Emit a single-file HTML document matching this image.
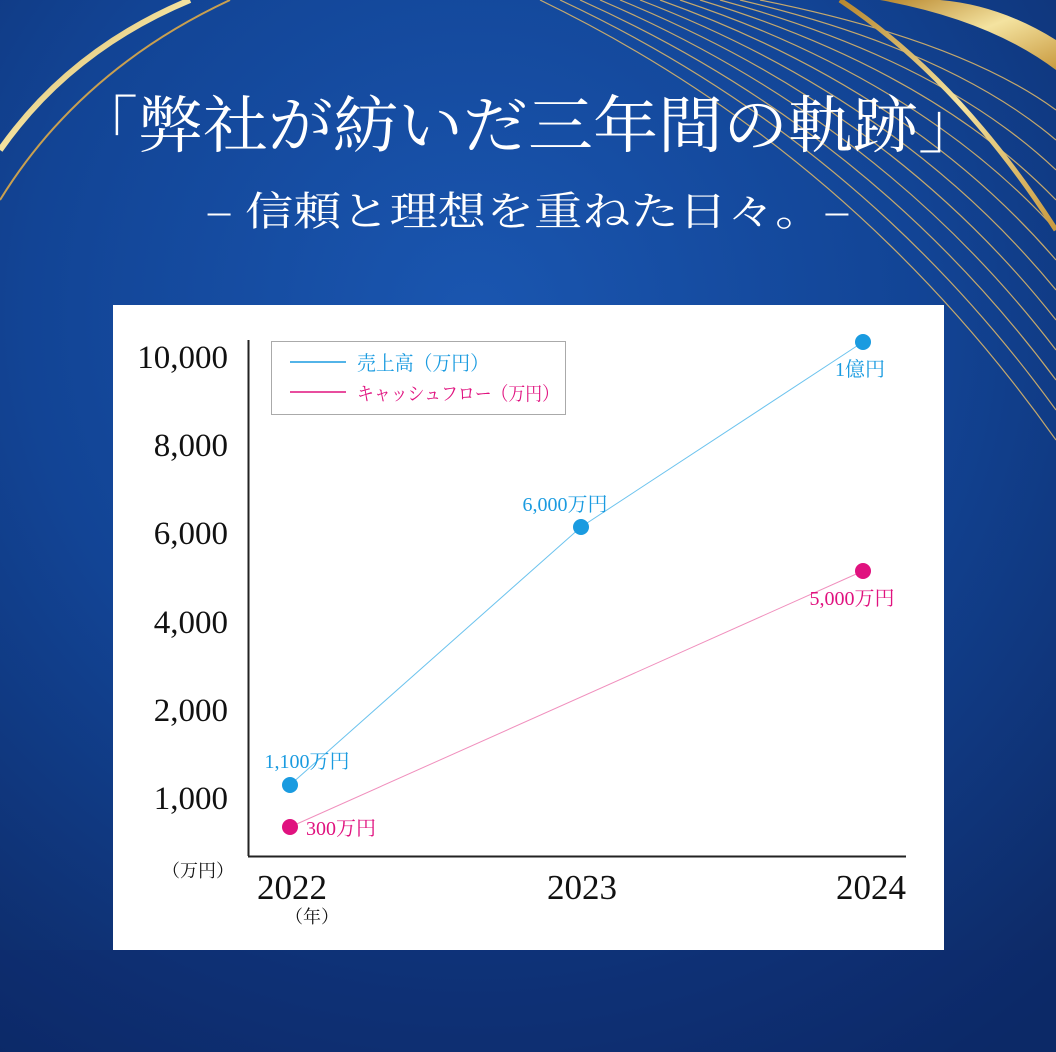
<!DOCTYPE html>
<html><head><meta charset="utf-8"><style>
body{margin:0;width:1056px;height:1052px;overflow:hidden;}
svg{display:block}
</style></head><body>
<svg width="1056" height="1052" viewBox="0 0 1056 1052" xmlns="http://www.w3.org/2000/svg">
<defs>
<radialGradient id="bg" cx="0.45" cy="0.3" r="0.85">
<stop offset="0" stop-color="#1a56b0"/>
<stop offset="0.5" stop-color="#124495"/>
<stop offset="1" stop-color="#0d2863"/>
</radialGradient>
<linearGradient id="gold" x1="0" y1="0" x2="1" y2="1">
<stop offset="0" stop-color="#b8872e"/><stop offset="0.5" stop-color="#f4e3a0"/><stop offset="1" stop-color="#c99a3f"/>
</linearGradient>
</defs>
<rect width="1056" height="1052" fill="url(#bg)"/>
<rect x="0" y="950" width="1056" height="102" fill="#0c2a6e" opacity="0.4"/>
<path d="M0,150 Q70,50 190,0" stroke="url(#gold)" stroke-width="6" fill="none"/>
<path d="M0,200 Q80,70 230,0" stroke="#c9a050" stroke-width="2" fill="none"/>
<g stroke="#d8b46a" stroke-width="1.2" fill="none" opacity="0.9">
<path d="M540,0 Q850,150 1056,440"/>
<path d="M560,0 Q860,140 1056,410"/>
<path d="M580,0 Q870,130 1056,380"/>
<path d="M600,0 Q880,120 1056,350"/>
<path d="M620,0 Q890,110 1056,320"/>
<path d="M640,0 Q900,100 1056,290"/>
<path d="M660,0 Q910,90 1056,260"/>
<path d="M680,0 Q920,80 1056,230"/>
<path d="M700,0 Q930,70 1056,200"/>
<path d="M720,0 Q940,60 1056,170"/>
<path d="M740,0 Q950,50 1056,140"/>
<path d="M760,0 Q960,40 1056,110"/>
</g>
<path d="M840,0 Q960,80 1056,230" stroke="url(#gold)" stroke-width="5" fill="none"/>
<path d="M880,0 Q990,20 1056,70 L1056,40 Q1000,5 940,0 Z" fill="url(#gold)"/>
<text x="528" y="147" text-anchor="middle" fill="#fff" font-family="'Noto Serif CJK SC','Liberation Serif',serif" font-size="62" textLength="910" lengthAdjust="spacingAndGlyphs">「弊社が紡いだ三年間の軌跡」</text>
<text x="528" y="225" text-anchor="middle" fill="#fff" font-family="'Noto Serif CJK SC','Liberation Serif',serif" font-size="40" textLength="645" lengthAdjust="spacingAndGlyphs">– 信頼と理想を重ねた日々。–</text>
<rect x="113" y="305" width="831" height="645" fill="#fff"/>
<line x1="248.5" y1="340" x2="248.5" y2="856" stroke="#222" stroke-width="2"/>
<line x1="248" y1="856.5" x2="906" y2="856.5" stroke="#222" stroke-width="2"/>
<g font-family="'Liberation Serif',serif" font-size="33" fill="#111" text-anchor="end">
<text x="228" y="368">10,000</text>
<text x="228" y="456">8,000</text>
<text x="228" y="544">6,000</text>
<text x="228" y="633">4,000</text>
<text x="228" y="721">2,000</text>
<text x="228" y="809">1,000</text>
</g>
<text x="198" y="877" text-anchor="middle" font-family="'Liberation Serif','Noto Serif CJK SC',serif" font-size="18" fill="#111">（万円）</text>
<g font-family="'Liberation Serif',serif" font-size="35" fill="#111" text-anchor="middle">
<text x="292" y="899">2022</text>
<text x="582" y="899">2023</text>
<text x="871" y="899">2024</text>
</g>
<text x="312" y="923" text-anchor="middle" font-family="'Liberation Serif','Noto Serif CJK SC',serif" font-size="18" fill="#111">（年）</text>
<rect x="271.5" y="341.5" width="294" height="73" fill="#fff" stroke="#aaa"/>
<line x1="290" y1="362" x2="346" y2="362" stroke="#1a9be0" stroke-width="1.5"/>
<line x1="290" y1="392" x2="346" y2="392" stroke="#e0127f" stroke-width="1.5"/>
<text x="357" y="370" font-family="'Liberation Serif','Noto Serif CJK SC',serif" font-size="20" fill="#1a9be0" textLength="132" lengthAdjust="spacingAndGlyphs">売上高（万円）</text>
<text x="357" y="400" font-family="'Liberation Serif','Noto Serif CJK SC',serif" font-size="19" fill="#e0127f" textLength="202" lengthAdjust="spacingAndGlyphs">キャッシュフロー（万円）</text>
<polyline points="290,785 581,527 863,342" fill="none" stroke="#6cc3ee" stroke-width="1"/>
<polyline points="290,827 863,571" fill="none" stroke="#f08fbd" stroke-width="1"/>
<g fill="#1a9be0"><circle cx="290" cy="785" r="8"/><circle cx="581" cy="527" r="8"/><circle cx="863" cy="342" r="8"/></g>
<g fill="#e0127f"><circle cx="290" cy="827" r="8"/><circle cx="863" cy="571" r="8"/></g>
<g font-family="'Liberation Serif','Noto Serif CJK SC',serif" font-size="20">
<text x="307" y="768" text-anchor="middle" fill="#1a9be0">1,100万円</text>
<text x="565" y="511" text-anchor="middle" fill="#1a9be0">6,000万円</text>
<text x="860" y="376" text-anchor="middle" fill="#1a9be0">1億円</text>
<text x="306" y="835" fill="#e0127f">300万円</text>
<text x="852" y="605" text-anchor="middle" fill="#e0127f">5,000万円</text>
</g>
</svg>
</body></html>
